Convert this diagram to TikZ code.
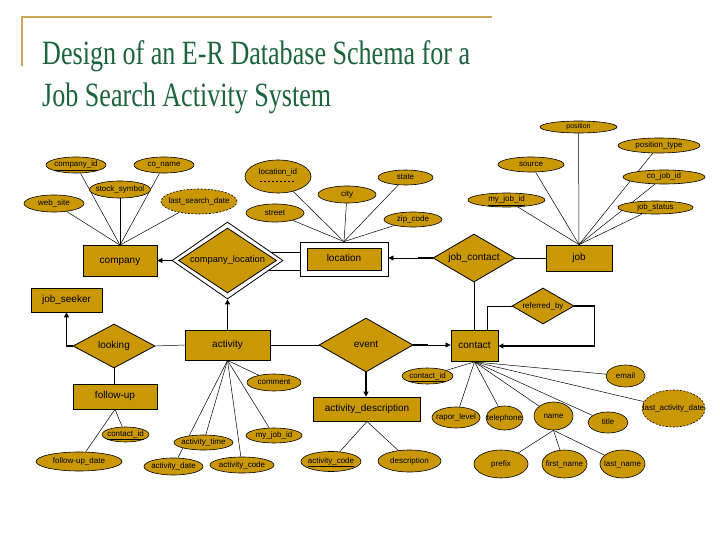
\documentclass[tikz,border=0pt]{standalone}
\usepackage{fontspec}
\usepackage{graphicx}
\setmainfont{Liberation Serif}
\newfontfamily\arialf{Liberation Sans}
\usetikzlibrary{shapes.geometric,arrows.meta,calc,backgrounds}
\definecolor{gold}{RGB}{201,152,4}
\definecolor{titlegreen}{RGB}{28,100,60}
\definecolor{rulegold}{RGB}{200,168,80}
\begin{document}
\begin{tikzpicture}[x=1pt,y=-1pt,
  ent/.style={draw, line width=0.8pt, fill=gold, rectangle, inner sep=0pt, text height=6pt, text depth=1.5pt, font=\arialf\fontsize{10}{12}\selectfont},
  rel/.style={draw, line width=0.8pt, fill=gold, diamond, inner sep=0pt, text height=6pt, text depth=1.5pt, font=\arialf\fontsize{10}{12}\selectfont},
  attr/.style={draw, line width=0.6pt, fill=gold, ellipse, inner sep=0pt, text height=4.5pt, text depth=0.5pt, font=\arialf\fontsize{8}{9}\selectfont,
    execute at begin node={\hbox to 0pt\bgroup\hss}, execute at end node={\hss\egroup}},
  derived/.style={attr, dash pattern=on 2pt off 1.5pt},
  link/.style={line width=0.5pt},
  arr/.style={-{Triangle[length=5pt,width=5pt]}, line width=0.6pt},
  heavy/.style={line width=1.6pt},
  harr/.style={-{Triangle[length=5pt,width=5pt]}, line width=1.6pt}]
\useasboundingbox (0,0) rectangle (720,540);

% title
\draw[rulegold, line width=2pt] (21,17) -- (492,17);
\draw[rulegold, line width=2pt] (22,16) -- (22,66);
\node[anchor=base west, inner sep=0pt, text=titlegreen, font=\fontsize{34}{40}\selectfont] (title1) at (42,65) {\scalebox{0.767}[1]{Design of an E-R Database Schema for a}};
\node[anchor=base west, inner sep=0pt, text=titlegreen, font=\fontsize{34}{40}\selectfont] (title2) at (42,107) {\scalebox{0.767}[1]{Job Search Activity System}};

% entities
\node[ent, minimum width=74pt, minimum height=31pt] (company) at (120,261) {company};
\node[draw, line width=0.8pt, fill=white, minimum width=88pt, minimum height=34pt, inner sep=0pt] (locout) at (344,259) {};
\node[ent, minimum width=74pt, minimum height=22pt] (location) at (344,259) {location};
\node[ent, minimum width=66pt, minimum height=26pt] (job) at (579,258) {job};
\node[ent, minimum width=71pt, minimum height=24pt] (seeker) at (66.5,300) {job\_seeker};
\node[ent, minimum width=85pt, minimum height=30pt] (activity) at (227.5,345) {activity};
\node[ent, minimum width=47pt, minimum height=31pt] (contact) at (474.5,346) {contact};
\node[ent, minimum width=84pt, minimum height=25pt] (followup) at (115,396.5) {follow-up};
\node[ent, minimum width=107pt, minimum height=24pt] (actdesc) at (367,409) {activity\_description};

% relationships
\node[draw, line width=0.8pt, fill=white, diamond, inner sep=0pt, minimum width=111pt, minimum height=77pt] (clout) at (227.5,260.5) {};
\node[rel, aspect=1.5, minimum width=98pt, minimum height=65pt, font=\arialf\fontsize{9.3}{11}\selectfont] (cl) at (227.5,260.5) {company\_location};
\node[rel, aspect=2, minimum width=82pt, minimum height=48pt] (jc) at (474,258) {job\_contact};
\node[rel, aspect=1.8, minimum width=82pt, minimum height=44pt] (looking) at (114,346) {looking};
\node[rel, aspect=1.8, minimum width=94pt, minimum height=54pt] (event) at (366,345) {event};
\node[rel, aspect=1.9, minimum width=62pt, minimum height=36pt, text height=4.5pt, text depth=0.5pt, font=\arialf\fontsize{8}{9}\selectfont] (refby) at (543,306) {referred\_by};

% attributes
\node[attr, minimum width=60pt, minimum height=16pt] (companyid) at (76,165) {\underline{company\_id}};
\node[attr, minimum width=60pt, minimum height=16pt] (coname) at (164,165) {co\_name};
\node[attr, minimum width=61pt, minimum height=17pt] (stock) at (120,189.5) {stock\_symbol};
\node[attr, minimum width=60pt, minimum height=17pt] (website) at (54,203.5) {web\_site};
\node[derived, minimum width=76pt, minimum height=25pt] (lsd) at (199,201.5) {last\_search\_date};
\node[attr, minimum width=66pt, minimum height=33pt, text height=0pt, text depth=4pt] (locid) at (278,176.5) {location\_id};
\node[attr, minimum width=58pt, minimum height=17pt] (city) at (347,194.5) {city};
\node[attr, minimum width=58pt, minimum height=18pt] (street) at (275,213) {street};
\node[attr, minimum width=55pt, minimum height=15pt] (state) at (405.5,177.5) {state};
\node[attr, minimum width=58pt, minimum height=15pt] (zip) at (413,219.5) {zip\_code};
\node[attr, minimum width=77pt, minimum height=12pt, text height=4pt, font=\arialf\fontsize{7}{8}\selectfont] (position) at (578.5,127) {position};
\node[attr, minimum width=82pt, minimum height=15pt] (ptype) at (659,145.5) {position\_type};
\node[attr, minimum width=66pt, minimum height=15pt] (source) at (531,164.5) {source};
\node[attr, minimum width=82pt, minimum height=14pt] (cojob) at (664,177) {co\_job\_id};
\node[attr, minimum width=77pt, minimum height=14pt] (myjob) at (506.5,200) {\underline{my\_job\_id}};
\node[attr, minimum width=75pt, minimum height=13pt] (jobstatus) at (655.5,207.5) {job\_status};
\node[attr, minimum width=54pt, minimum height=17pt] (comment) at (274,382.5) {comment};
\node[attr, minimum width=51pt, minimum height=16pt] (cidc) at (427.5,376) {\underline{contact\_id}};
\node[attr, minimum width=39pt, minimum height=22pt] (email) at (625.5,376) {email};
\node[attr, minimum width=48pt, minimum height=21pt] (rapor) at (456,417.5) {rapor\_level};
\node[attr, minimum width=37pt, minimum height=24pt] (tel) at (504.5,418) {telephone};
\node[attr, minimum width=39pt, minimum height=28pt] (name) at (553.5,416) {name};
\node[attr, minimum width=40pt, minimum height=21pt] (title) at (608,422.5) {title};
\node[derived, minimum width=63pt, minimum height=37pt] (lad) at (673.5,408.5) {last\_activity\_date};
\node[attr, minimum width=54pt, minimum height=28pt] (prefix) at (501,464) {prefix};
\node[attr, minimum width=45pt, minimum height=28pt] (first) at (564.5,464) {first\_name};
\node[attr, minimum width=45pt, minimum height=28pt] (last) at (622.5,464) {last\_name};
\node[attr, minimum width=47pt, minimum height=15pt] (cidf) at (125.5,434.5) {\underline{contact\_id}};
\node[attr, minimum width=86pt, minimum height=19pt] (fud) at (79,461.5) {follow-up\_date};
\node[attr, minimum width=59pt, minimum height=15pt] (acttime) at (203.5,442.5) {activity\_time};
\node[attr, minimum width=56pt, minimum height=15pt] (myjoba) at (274,435.5) {my\_job\_id};
\node[attr, minimum width=59pt, minimum height=17pt] (actdate) at (173.5,466.5) {activity\_date};
\node[attr, minimum width=64pt, minimum height=16pt] (actcodea) at (242,465) {activity\_code};
\node[attr, minimum width=60pt, minimum height=20pt] (actcoded) at (331,461.5) {\underline{activity\_code}};
\node[attr, minimum width=63pt, minimum height=22pt] (description) at (409.5,461) {description};

% dashed partial-key underline
\draw[line width=0.5pt, dash pattern=on 2pt off 2pt] ($(locid.center)+(-18,4.5)$) -- ($(locid.center)+(18,4.5)$);

% relationship connectors
\draw[arr] (clout.west) -- (clout.west -| company.east);
\draw[arr, line width=1.1pt] (activity.north) -- (clout.south);
\draw[arr] (jc.west) -- (jc.west -| locout.east);
\draw[heavy] (jc.west) -- ++(-15,0);
\draw[link] (jc.east) -- (jc.east -| job.west);
\draw[link] (jc.south) -- (jc.south |- contact.north);
\draw[link] (refby.west) -| ($(contact.north)+(12.5,0)$);
\draw[harr] (refby.east) -- ++(20,0) |- (contact.east);
\draw[harr] (looking.west) -| (seeker.south);
\draw[link] (looking.east) -- (activity.west);
\draw[link] (activity.east) -- (event.west);
\draw[arr] (event.east) -- (event.east -| contact.west);
\draw[heavy] (event.east) -- ++(15,0);
\draw[harr] (event.south) -- (event.south |- actdesc.north);
\draw[link] (looking.south) -- (looking.south |- followup.north);

\begin{scope}[on background layer]
\fill[white] (0,0) rectangle (720,540);
\draw[link] ($(clout.center)+(0,-8.5)$) -- ($(locout.west)+(0,-7)$);
\draw[link] ($(clout.center)+(0,10)$) -- ($(locout.west)+(0,11.5)$);
\foreach \a in {companyid,coname,stock,website,lsd} \draw[link] (company.north) -- (\a);
\foreach \a in {locid,city,street,state,zip} \draw[link] (locout.north) -- (\a);
\foreach \a in {position,ptype,source,cojob,myjob,jobstatus} \draw[link] (job.north) -- (\a);
\foreach \a in {comment,acttime,myjoba,actdate,actcodea} \draw[link] (activity.south) -- (\a);
\foreach \a in {cidf,fud} \draw[link] (followup.south) -- (\a);
\foreach \a in {actcoded,description} \draw[link] (actdesc.south) -- (\a);
\foreach \a in {cidc,email,rapor,tel,name,title,lad} \draw[link] (contact.south) -- (\a);
\foreach \a in {prefix,first,last} \draw[link] (name.south) -- (\a);
\end{scope}
\end{tikzpicture}
\end{document}
